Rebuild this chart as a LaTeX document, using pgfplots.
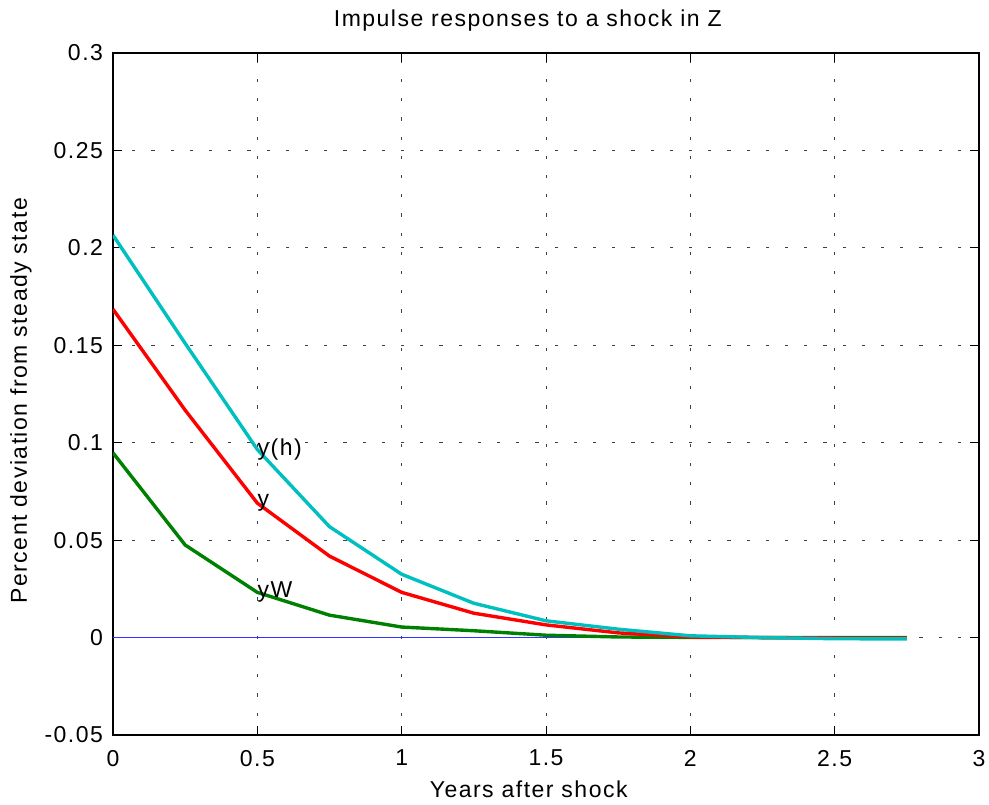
\documentclass[border=0pt]{standalone}
\usepackage{fontspec}
\setmainfont{Liberation Sans}[LetterSpace=6.5]
\usepackage{pgfplots}
\pgfplotsset{compat=1.18}
\usepackage{pgfplotstable}

\definecolor{mcyan}{rgb}{0,0.75,0.75}
\definecolor{mgreen}{rgb}{0,0.5,0}
\definecolor{mblue}{rgb}{0.2,0.2,1}

\pgfplotstableread{
x     yh       y        yW      z
0     0.2065   0.1685   0.0948  0
0.25  0.1510   0.1167   0.0475  0
0.5   0.0965   0.0690   0.0232  0
0.75  0.0569   0.0418   0.0115  0
1.0   0.0325   0.0232   0.0054  0
1.25  0.0176   0.0125   0.0035  0
1.5   0.0086   0.0065   0.0012  0
1.75  0.0043   0.0024   0.0003  0
2.0   0.0009   0.0003   0.0001  0
2.25  0.0000   0.0000   0.0000  0
2.5  -0.0006  -0.0002   0.0000  0
2.75 -0.0007  -0.0002   0.0000  0
}\data

\begin{document}
\begin{tikzpicture}[font=\fontsize{11.5}{13}\selectfont]
\begin{axis}[name=ax, scale only axis, width=433pt, height=341pt,
  xmin=0, xmax=3, ymin=-0.05, ymax=0.3,
  xtick={0,0.5,1,1.5,2,2.5,3},
  xticklabels={0,0.5,1,1.5,2,2.5,3},
  ytick={-0.05,0,0.05,0.1,0.15,0.2,0.25,0.3},
  yticklabels={-0.05,0,0.05,0.1,0.15,0.2,0.25,0.3},
  grid=major,
  major grid style={black!75, line width=0.5pt, dash pattern=on 1.6pt off 8pt},
  tick align=inside, major tick length=4.3pt,
  every tick/.style={black, line width=0.5pt},
  axis line style={line width=0.6pt},
  xticklabel style={yshift=-4pt},
  yticklabel style={xshift=-1.5pt},
  title={Impulse responses to a shock in Z},
  title style={at={(axis description cs:0.479,1)}, anchor=base, yshift=7pt},
  xlabel={Years after shock},
  xlabel style={at={(axis description cs:0.48,0)}, anchor=base, yshift=-31.5pt},
  ylabel={Percent deviation from steady state},
  ylabel style={at={(axis description cs:0,0.49)}, anchor=center, yshift=46pt},
]
\addplot[color=mblue, line width=0.8pt] table[x=x, y=z] {\data};
\addplot[color=mgreen, line width=1.7pt] table[x=x, y=yW] {\data};
\addplot[color=red, line width=1.7pt] table[x=x, y=y] {\data};
\addplot[color=mcyan, line width=1.7pt] table[x=x, y=yh] {\data};
\node[anchor=west, inner sep=0pt] at (axis cs:0.5,0.0965) {y(h)};
\node[anchor=west, inner sep=0pt] at (axis cs:0.5,0.0690) {y};
\node[anchor=west, inner sep=0pt] at (axis cs:0.5,0.0232) {yW};
\end{axis}
\pgfresetboundingbox
\path ([shift={(-56.5pt,-35pt)}]ax.south west) rectangle ([shift={(5pt,26.5pt)}]ax.north east);
\end{tikzpicture}
\end{document}
